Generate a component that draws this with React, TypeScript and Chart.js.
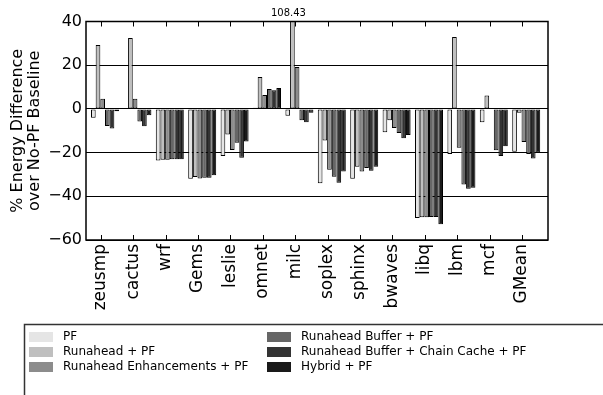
import React, { useEffect, useRef } from 'react';
import { Chart, registerables } from 'chart.js';

Chart.register(...registerables);

const categories = ['zeusmp', 'cactus', 'wrf', 'Gems', 'leslie', 'omnet', 'milc', 'soplex', 'sphinx', 'bwaves', 'libq', 'lbm', 'mcf', 'GMean'];
const seriesNames = ['PF', 'Runahead + PF', 'Runahead Enhancements + PF', 'Runahead Buffer + PF', 'Runahead Buffer + Chain Cache + PF', 'Hybrid + PF'];
const pfValues = [-4.0, 0.0, -23.6, -32.0, -21.5, 0.5, -3.1, -34.0, -32.0, -10.7, -49.9, -20.6, -6.1, -19.6];
const runaheadValues = [29.2, 32.4, -23.3, -31.2, -11.7, 14.6, 108.43, -14.5, -26.5, -5.2, -49.6, 32.9, 6.1, -1.8];
const enhancementValues = [4.7, 4.7, -23.3, -31.8, -18.8, 6.4, 19.2, -27.8, -28.7, -8.7, -49.6, -17.8, -0.3, -15.2];
const bufferValues = [-7.8, -5.8, -23.0, -31.5, -15.5, 9.1, -5.2, -31.0, -27.0, -11.0, -49.5, -34.6, -18.9, -20.6];
const chainCacheValues = [-9.0, -7.9, -23.0, -31.5, -22.4, 8.5, -6.1, -33.8, -28.3, -13.4, -49.5, -36.5, -21.6, -22.7];
const hybridValues = [-1.1, -2.9, -23.0, -30.4, -14.9, 9.6, -1.8, -28.6, -26.5, -11.9, -52.8, -36.1, -17.1, -20.1];
const seriesValues = [pfValues, runaheadValues, enhancementValues, bufferValues, chainCacheValues, hybridValues];
const seriesColors = ['#e5e5e5', '#bfbfbf', '#8c8c8c', '#666666', '#333333', '#1a1a1a'];
const yMin = -60;
const yMax = 40;
const yStep = 20;

const FONT = '"DejaVu Sans", sans-serif';
const groupShift = 0.1327;

const framePlugin = {
  id: 'frame',
  afterDraw(chart: any) {
    const { ctx, chartArea: a, scales } = chart;
    const xs = scales.x;
    ctx.save();
    ctx.strokeStyle = '#000';
    ctx.lineWidth = 1.5;
    ctx.strokeRect(a.left, a.top, a.right - a.left, a.bottom - a.top);
    ctx.lineWidth = 1;
    categories.forEach((_, i) => {
      const px = Math.round(xs.getPixelForValue(i)) + 0.5;
      ctx.beginPath();
      ctx.moveTo(px, a.top);
      ctx.lineTo(px, a.top + 5);
      ctx.moveTo(px, a.bottom);
      ctx.lineTo(px, a.bottom - 5);
      ctx.stroke();
    });
    ctx.fillStyle = '#000';
    ctx.font = '10px ' + FONT;
    ctx.textAlign = 'center';
    ctx.textBaseline = 'bottom';
    seriesValues.forEach((vals, d) => {
      const meta = chart.getDatasetMeta(d);
      vals.forEach((v, i) => {
        if (v > yMax) {
          const el = meta.data[i];
          ctx.fillText(v.toFixed(2), el.x - 4, a.top - 3);
        }
      });
    });
    const boxX = 24.5;
    const boxY = 324.5;
    ctx.fillStyle = '#fff';
    ctx.fillRect(boxX, boxY, 700, 200);
    ctx.strokeStyle = '#333';
    ctx.lineWidth = 1.5;
    ctx.strokeRect(boxX, boxY, 700, 200);
    ctx.font = '12px ' + FONT;
    ctx.textAlign = 'left';
    ctx.textBaseline = 'middle';
    seriesNames.forEach((name, k) => {
      const col = Math.floor(k / 3);
      const row = k % 3;
      const sx = col === 0 ? 29 : 267;
      const cy = 337 + row * 15;
      ctx.fillStyle = seriesColors[k];
      ctx.fillRect(sx, cy - 5, 24, 10);
      ctx.fillStyle = '#000';
      ctx.fillText(name, sx + 34, cy);
    });
    ctx.restore();
  },
};

export default function App() {
  const ref = useRef<HTMLCanvasElement | null>(null);
  useEffect(() => {
    if (!ref.current) return;
    Chart.defaults.font.family = FONT;
    const chart = new Chart(ref.current, {
      type: 'bar',
      data: {
        datasets: seriesNames.map((name, d) => ({
          label: name,
          data: seriesValues[d].map((v, i) => ({ x: i + groupShift, y: v })),
          backgroundColor: seriesColors[d],
          borderColor: '#000',
          borderWidth: 1,
          borderSkipped: false,
          barPercentage: 1,
          categoryPercentage: 0.864,
        })),
      },
      options: {
        animation: false,
        responsive: false,
        events: [],
        layout: { padding: { left: 0, right: 55, top: 21.5, bottom: 80 } },
        plugins: { legend: { display: false }, tooltip: { enabled: false } },
        scales: {
          x: {
            type: 'linear',
            min: -0.4537,
            max: 13.805,
            offset: false,
            grid: { display: false, drawTicks: false },
            border: { display: false },
            ticks: {
              stepSize: 1,
              maxTicksLimit: 30,
              includeBounds: false,
              autoSkip: false,
              maxRotation: 90,
              minRotation: 90,
              padding: 4,
              color: '#000',
              font: { family: FONT, size: 17 },
              callback: (v: any) => (Number.isInteger(v) && categories[v] !== undefined ? categories[v] : ''),
            },
            afterFit: (s: any) => {
              s.height = 75;
            },
          },
          y: {
            min: yMin,
            max: yMax,
            grid: { color: '#000', lineWidth: 1, drawTicks: false },
            border: { display: false },
            ticks: {
              stepSize: yStep,
              padding: 4,
              color: '#000',
              font: { family: FONT, size: 16 },
              callback: (v: any) => (v < 0 ? '\u2212' + Math.abs(v) : String(v)),
            },
            title: {
              display: true,
              text: ['% Energy Difference', 'over No-PF Baseline'],
              color: '#000',
              font: { family: FONT, size: 16, lineHeight: 1.0625 },
              padding: { top: 9.5, bottom: 0 },
            },
            afterFit: (s: any) => {
              s.width = 86;
            },
          },
        },
      },
      plugins: [framePlugin],
    });
    return () => chart.destroy();
  }, []);
  return (
    <div style={{ position: 'fixed', left: 0, top: 0, width: 603, height: 395, background: '#fff' }}>
      <canvas ref={ref} width={603} height={395} />
    </div>
  );
}
